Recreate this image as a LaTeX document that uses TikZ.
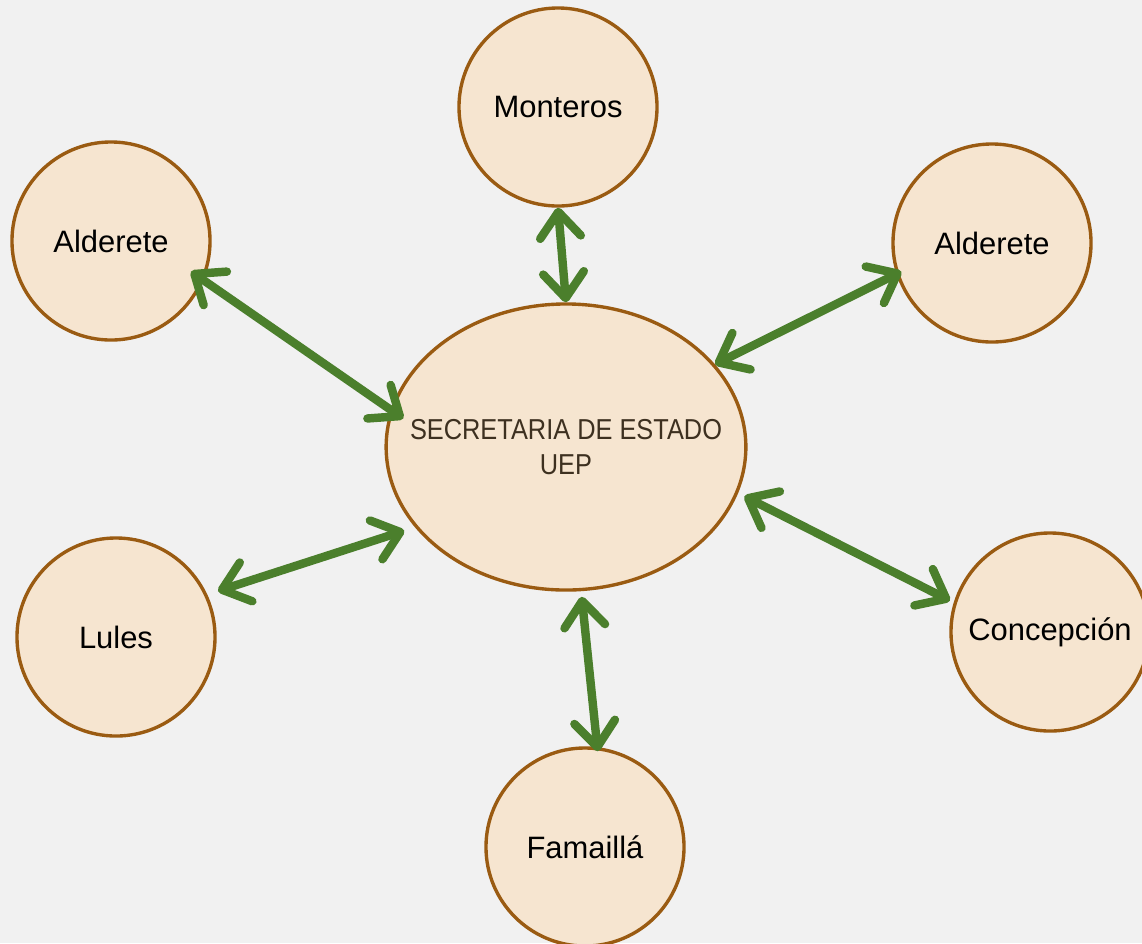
\documentclass[tikz,border=0pt]{standalone}
\usepackage{fontspec}
\setmainfont{Liberation Sans}
\newfontfamily\narrowfont{Liberation Sans}[FakeStretch=0.88]
\usetikzlibrary{arrows.meta, shapes.geometric}
\definecolor{paper}{HTML}{F1F1F1}
\definecolor{cream}{HTML}{F6E5D0}
\definecolor{rim}{HTML}{9A5B12}
\definecolor{leaf}{HTML}{4B7F2C}
\definecolor{ink}{HTML}{3D3020}

\begin{document}
\begin{tikzpicture}[
    x=0.025cm, y=-0.025cm,
    town/.style={circle, draw=rim, line width=2.4pt, fill=cream, minimum size=4.95cm, inner sep=0pt, font=\fontsize{22}{26}\selectfont},
    hub/.style={ellipse, draw=rim, line width=2.4pt, fill=cream, minimum width=8.85cm, minimum height=7.15cm, inner ysep=0pt, inner xsep=-0.72cm, align=center, text=ink, font=\narrowfont\fontsize{20.5}{25}\selectfont},
    barb/.tip={Straight Barb[length=18pt, width=29pt, round]},
    link/.style={barb-barb, line width=6pt, draw=leaf, line cap=round}
]
\path[use as bounding box, fill=paper] (0,0) rectangle (1142,943);

% centre and towns
\node[hub] (sec) at (566,447) {SECRETARIA DE ESTADO\\UEP};
\node[town] (mon) at (558,107) {Monteros};
\node[town] (ald1) at (111,241) {Alderete};
\node[town] (ald2) at (992,243) {Alderete};
\node[town] (lul) at (116,637) {Lules};
\node[town] (con) at (1050,632) {Concepción};
\node[town] (fam) at (585,847) {Famaillá};

% links
\draw[link] (mon.-90) -- (sec.90);
\draw[link, shorten <=-11pt, shorten >=-11pt] (ald1.-23) -- (sec.168);
\draw[link, shorten <=-4pt] (ald2.198) -- (sec.29);
\draw[link, shorten <=8pt, shorten >=8pt] (lul.25) -- (sec.208);
\draw[link, shorten <=3pt, shorten >=5pt] (con.163) -- (sec.-15);
\draw[link, shorten <=-3pt, shorten >=4pt] (fam.83) -- (sec.-84);

\end{tikzpicture}
\end{document}
